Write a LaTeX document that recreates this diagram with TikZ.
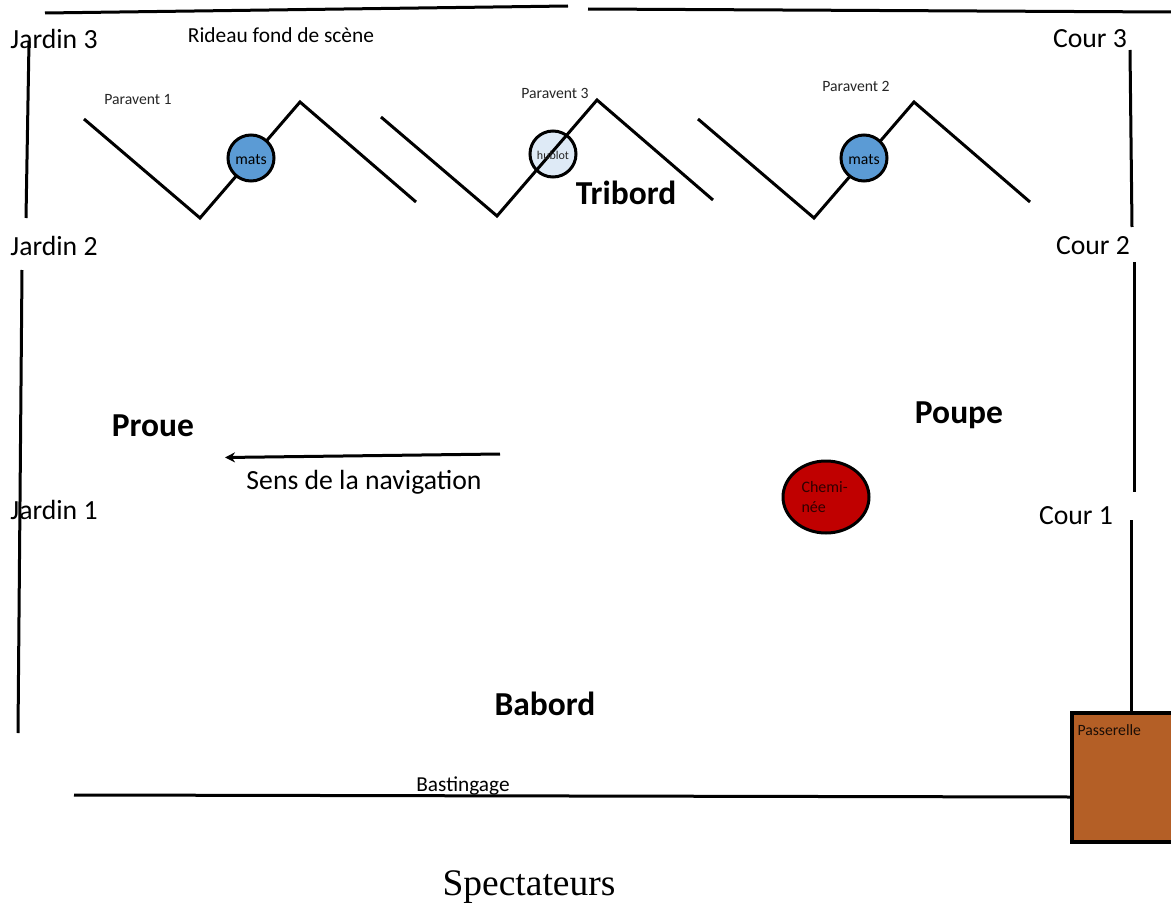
\documentclass[tikz,border=0pt]{standalone}
\usepackage{fontspec}
\setmainfont{Carlito}
\newfontfamily\serifface{Liberation Serif}
\usepackage{xcolor}
\usetikzlibrary{arrows.meta,shapes.geometric}
\definecolor{mast}{HTML}{5B9BD5}
\definecolor{porthole}{HTML}{DEEAF6}
\definecolor{chimney}{HTML}{C00000}
\definecolor{gangway}{HTML}{B45F26}
\definecolor{ink}{HTML}{262626}
\tikzset{
  wall/.style={draw=black, line width=3pt},
  screenline/.style={draw=black, line width=3pt, line join=miter},
  roundel/.style={circle, draw=black, line width=3pt, minimum size=46pt, inner sep=0pt},
  labw/.style={text=black, font=\fontsize{27.7}{30}\selectfont},
  labm/.style={text=ink, font=\fontsize{15.7}{18}\selectfont},
  labb/.style={text=black, font=\fontsize{33.5}{36}\selectfont\bfseries}
}
\begin{document}
\begin{tikzpicture}[x=1pt,y=-1pt]
  \useasboundingbox (0,0) rectangle (1171,907);

  % back curtain and side walls
  \draw[wall] (45,13)--(568,6);
  \draw[wall] (588,9)--(1171,12);
  \draw[wall] (29,42)--(26,218);
  \draw[wall] (22,270)--(18,733);
  \draw[wall] (1130,50)--(1132,227);
  \draw[wall] (1134,262)--(1134,492);
  \draw[wall] (1131,520)--(1131,713);
  \draw[wall] (74,795)--(1070,797);

  % the porthole sits under its screen
  \node[roundel,fill=porthole] (hublot) at (553,154) {};

  % the three screens
  \foreach \sx/\sy in {84/119, 381/117, 698/119}
    \draw[screenline] (\sx,\sy)--++(116,99)--++(100,-116)--++(116,100);

  % masts on top of the screens
  \node[roundel,fill=mast] (mat1) at (251,158) {};
  \node[roundel,fill=mast] (mat2) at (864,158) {};
  \node[labm,text=black] (mat1txt) at (251,160) {mats};
  \node[labm,text=black] (mat2txt) at (864,160) {mats};
  \node[labm,font=\fontsize{12}{14}\selectfont] (hublottxt) at (553,155) {hublot};

  \node[draw=black,line width=3pt,fill=chimney,ellipse,minimum width=86pt,minimum height=72pt,inner sep=0pt] (cheminee) at (826,497) {};
  \node[labm,text=black!75!chimney,align=left,anchor=west,font=\fontsize{16}{20}\selectfont] (chemtxt) at (798,497) {Chemi-\\née};

  \draw[draw=black,line width=3.4pt,fill=gangway] (1072,713) rectangle (1174,842);
  \node[labm,text=black!85!gangway,anchor=west] (passerelle) at (1074,730) {Passerelle};

  % arrow
  \coordinate (navstart) at (500,454);
  \coordinate (navend) at (225,457.5);
  \draw[wall,-{Stealth[length=10pt,width=10pt]}] (navstart)--(navend);

  % labels
  \node[labw] (j3) at (54,39) {Jardin 3};
  \node[labw] (j2) at (54,246) {Jardin 2};
  \node[labw] (j1) at (54,510) {Jardin 1};
  \node[labw] (c3) at (1090,39) {Cour 3};
  \node[labw] (c2) at (1093,246) {Cour 2};
  \node[labw] (c1) at (1076,516) {Cour 1};

  \node[labm,text=black,font=\fontsize{21.4}{24}\selectfont] (rideau) at (281,35) {Rideau fond de scène};
  \node[labm] (par1) at (138,100) {Paravent 1};
  \node[labm] (par3) at (555,93) {Paravent 3};
  \node[labm] (par2) at (856,86) {Paravent 2};
  \node[labb] (tribord) at (626,193) {Tribord};
  \node[labb] (proue) at (153,426) {Proue};
  \node[labb] (poupe) at (959,415) {Poupe};
  \node[labb] (babord) at (545,704) {Babord};
  \node[labw] (sens) at (364,482) {Sens de la navigation};
  \node[labm,text=black,font=\fontsize{21.3}{24}\selectfont] (bast) at (463,786) {Bastingage};
  \node[font=\fontsize{37.5}{40}\selectfont\serifface] (spect) at (529,887) {Spectateurs};
\end{tikzpicture}
\end{document}
